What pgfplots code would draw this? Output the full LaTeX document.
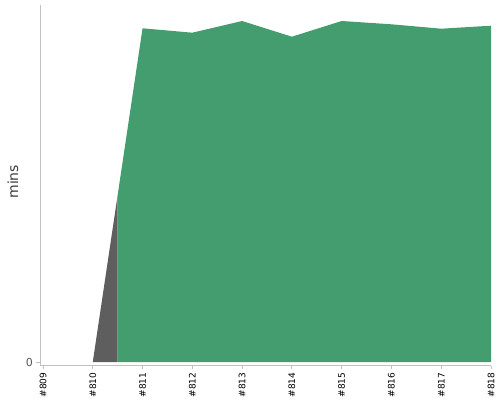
\documentclass[border=0pt]{standalone}
\usepackage{pgfplots}
\pgfplotsset{compat=1.18}
\usepackage{fontspec}
\setmainfont{DejaVu Sans}
\definecolor{okgreen}{RGB}{68,157,110}
\definecolor{failgrey}{RGB}{94,94,94}
\definecolor{axgrey}{RGB}{192,192,192}
\definecolor{labgrey}{RGB}{85,85,85}
\definecolor{titgrey}{RGB}{60,60,60}
\begin{document}
\begin{tikzpicture}
\begin{axis}[name=ax, scale only axis, width=451pt, height=360.7pt,
  xmin=-0.06, xmax=9, ymin=-3.7, ymax=357,
  axis x line*=bottom, axis y line*=left,
  axis line style={axgrey, line width=0.8pt, -},
  xtick={0,...,9},
  xticklabels={\#809,\#810,\#811,\#812,\#813,\#814,\#815,\#816,\#817,\#818},
  ytick={0}, yticklabels={0},
  tick align=outside, major tick length=3.5pt,
  tick style={axgrey, line width=0.8pt},
  xticklabel style={rotate=90, anchor=east, font=\fontsize{9}{10}\selectfont, text=black},
  yticklabel style={font=\fontsize{11}{12}\selectfont, text=labgrey},
  every axis y label/.style={at={(rel axis cs:0,0.51)}, xshift=-27pt, rotate=90, anchor=center},
  ylabel={mins}, ylabel style={font=\fontsize{14}{15}\selectfont, text=titgrey},
  clip=false,
  /pgf/number format/assume math mode=true]
\addplot[fill=failgrey, draw=none] coordinates {(1,0) (1.5,166.9) (1.5,0)} -- cycle;
\addplot[fill=okgreen, draw=none] coordinates {
  (1.5,0) (1.5,166.9) (2,333.7) (3,329.3) (4,341) (5,325.3) (6,341)
  (7,337.7) (8,333.3) (9,336.3) (9,0)} -- cycle;
\end{axis}
\path (ax.south west) ++(-40pt,-34.3pt) rectangle ++(500pt,400pt);
\end{tikzpicture}
\end{document}
